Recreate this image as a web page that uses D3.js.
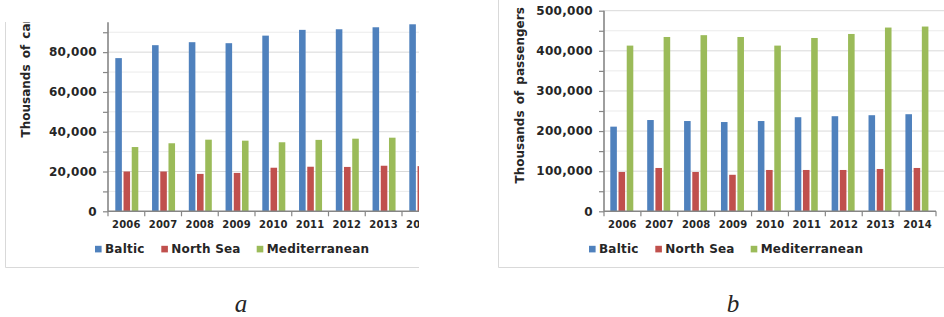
<!DOCTYPE html>
<html>
<head>
<meta charset="utf-8">
<script src="https://cdn.jsdelivr.net/npm/d3@7"></script>
<style>
  html, body { margin: 0; padding: 0; background: #fff; }
  svg { display: block; }
  text { font-family: "DejaVu Sans", Verdana, sans-serif; font-weight: bold; fill: #262626; }
</style>
</head>
<body>
<svg id="chart" width="944" height="317"></svg>
<script>
const years = ["2006", "2007", "2008", "2009", "2010", "2011", "2012", "2013", "2014"];
const seriesNames = ["Baltic", "North Sea", "Mediterranean"];
const seriesColors = ["#4F81BD", "#C0504D", "#9BBB59"];

// Chart a: thousands of cars
const carsBaltic    = [77000, 83500, 85000, 84500, 88300, 91200, 91500, 92500, 94000];
const carsNorthSea  = [20000, 20000, 18800, 19300, 21900, 22400, 22300, 22900, 22700];
const carsMed       = [32300, 34200, 36000, 35500, 34700, 35900, 36500, 37000, 37500];
const carsTicks     = [0, 20000, 40000, 60000, 80000];

// Chart b: thousands of passengers
const paxBaltic     = [211000, 227500, 225000, 222500, 225000, 234500, 237000, 239500, 242000];
const paxNorthSea   = [98000, 108000, 98000, 91000, 103000, 103000, 103000, 105500, 108000];
const paxMed        = [413000, 434500, 439000, 434500, 413000, 432000, 442000, 458000, 460500];
const paxTicks      = [0, 100000, 200000, 300000, 400000, 500000];

const svg = d3.select("#chart");
const fmt = d3.format(",");

function drawChart(cfg) {
  const defs = svg.append("defs");
  defs.append("clipPath").attr("id", cfg.id + "clip")
    .append("rect").attr("x", cfg.clip[0]).attr("y", cfg.clip[1])
    .attr("width", cfg.clip[2]).attr("height", cfg.clip[3]);
  const g = svg.append("g").attr("clip-path", `url(#${cfg.id}clip)`);

  // frame
  g.append("path")
    .attr("d", `M${cfg.frameX},${cfg.frameTop}V${cfg.frameBottom}H${cfg.frameRight}`)
    .attr("fill", "none").attr("stroke", "#d9d9d9").attr("stroke-width", 1);

  const x = d3.scaleBand().domain(years).range([cfg.x0, cfg.x1]);
  const x1 = d3.scaleBand().domain(seriesNames).range(cfg.sub).paddingInner(0.2);
  const y = d3.scaleLinear().domain([0, cfg.ymax]).range([cfg.y0, cfg.yTop]);

  // gridlines (minor + major)
  const gridVals = d3.range(cfg.minorStep, cfg.ymax + 1, cfg.minorStep);
  g.append("g").selectAll("line").data(gridVals).join("line")
    .attr("x1", cfg.x0).attr("x2", cfg.gridRight)
    .attr("y1", d => y(d)).attr("y2", d => y(d))
    .attr("stroke", d => cfg.ticks.includes(d) ? "#d9d9d9" : "#ebebeb")
    .attr("stroke-width", 1);

  // bars
  const data = [cfg.s1, cfg.s2, cfg.s3];
  seriesNames.forEach((name, si) => {
    g.append("g").selectAll("rect").data(data[si]).join("rect")
      .attr("x", (d, i) => x(years[i]) + x1(name))
      .attr("width", x1.bandwidth())
      .attr("y", d => y(d))
      .attr("height", d => y(0) - y(d))
      .attr("fill", seriesColors[si]);
  });

  // y axis
  const yAxis = d3.axisLeft(y).tickValues(d3.range(0, cfg.ymax + 1, cfg.minorStep))
    .tickSize(5).tickFormat("");
  const ya = g.append("g").attr("transform", `translate(${cfg.x0},0)`).call(yAxis);
  ya.select(".domain").attr("stroke", "#868686").attr("stroke-width", 1.6)
    .attr("d", `M0,${cfg.yTop}V${cfg.y0}`);
  ya.selectAll(".tick line").attr("stroke", "#868686").attr("stroke-width", 1.2);
  g.append("g").selectAll("text").data(cfg.ticks).join("text")
    .attr("x", cfg.x0 - 11).attr("y", d => y(d)).attr("dy", "0.35em")
    .attr("text-anchor", "end").attr("font-size", 12).attr("letter-spacing", 0.3)
    .text(d => fmt(d));

  // x axis
  const xa = g.append("g").attr("transform", `translate(0,${cfg.y0})`);
  xa.append("line").attr("x1", cfg.x0).attr("x2", cfg.x1)
    .attr("stroke", "#868686").attr("stroke-width", 1.6);
  xa.selectAll("line.t").data(d3.range(years.length + 1)).join("line").attr("class", "t")
    .attr("x1", i => cfg.x0 + i * x.step()).attr("x2", i => cfg.x0 + i * x.step())
    .attr("y1", 0).attr("y2", 5).attr("stroke", "#868686").attr("stroke-width", 1.2);
  xa.selectAll("text").data(years).join("text")
    .attr("x", d => x(d) + x.bandwidth() / 2).attr("y", 17)
    .attr("text-anchor", "middle").attr("font-size", 10).attr("letter-spacing", 0.2)
    .text(d => d);

  // y title
  g.append("text")
    .attr("transform", `translate(${cfg.titleX},${cfg.titleY}) rotate(-90)`)
    .attr("font-size", 12).attr("word-spacing", 2)
    .text(cfg.title);

  // legend
  const offs = [0, 66.3, 161.7];
  const lg = g.append("g").attr("transform", `translate(${cfg.legendX},0)`);
  seriesNames.forEach((name, i) => {
    lg.append("rect").attr("x", offs[i]).attr("y", 245.8).attr("width", 6.6).attr("height", 6.6)
      .attr("fill", seriesColors[i]);
    lg.append("text").attr("x", offs[i] + 10).attr("y", 253.2)
      .attr("font-size", 12).attr("letter-spacing", 0.2).text(name);
  });
}

drawChart({
  id: "a", clip: [0, 22, 419, 295],
  frameX: 5.5, frameTop: 0, frameBottom: 267.5, frameRight: 500,
  x0: 108, x1: 108 + 9 * 36.75, sub: [7.3, 30.3],
  ymax: 95000, minorStep: 10000, ticks: carsTicks,
  y0: 211.3, yTop: 22.3, gridRight: 419,
  s1: carsBaltic, s2: carsNorthSea, s3: carsMed,
  title: "Thousands of cars", titleX: 29.5, titleY: 137.5,
  legendX: 95
});

drawChart({
  id: "b", clip: [490, 0, 454, 317],
  frameX: 498.5, frameTop: 0, frameBottom: 267.5, frameRight: 944,
  x0: 604, x1: 936, sub: [6.3, 29.3],
  ymax: 500000, minorStep: 50000, ticks: paxTicks,
  y0: 211.3, yTop: 10.7, gridRight: 944,
  s1: paxBaltic, s2: paxNorthSea, s3: paxMed,
  title: "Thousands of passengers", titleX: 523.5, titleY: 183.5,
  legendX: 589
});

// captions
svg.append("text").attr("x", 241).attr("y", 311.5).attr("text-anchor", "middle")
  .style("font-family", "'Liberation Serif', serif").style("font-style", "italic")
  .style("font-weight", "normal").attr("font-size", 25).text("a");
svg.append("text").attr("x", 733).attr("y", 311.5).attr("text-anchor", "middle")
  .style("font-family", "'Liberation Serif', serif").style("font-style", "italic")
  .style("font-weight", "normal").attr("font-size", 25).text("b");
</script>
</body>
</html>
